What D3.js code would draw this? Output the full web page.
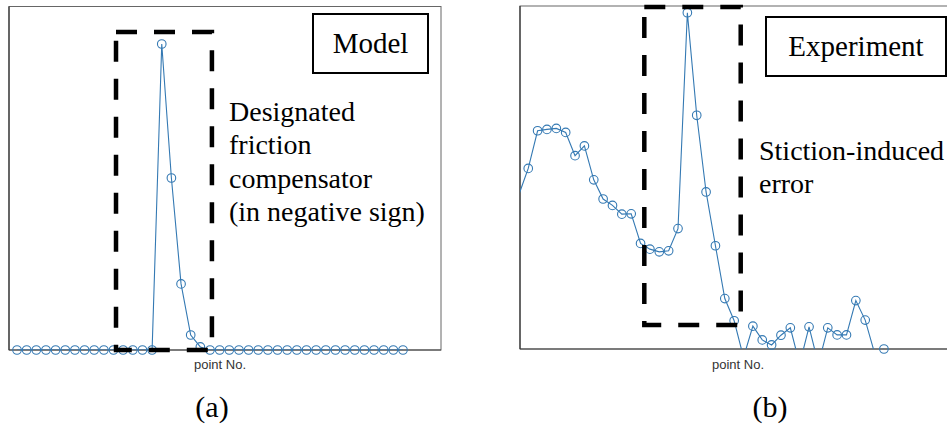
<!DOCTYPE html>
<html>
<head>
<meta charset="utf-8">
<script src="https://cdn.jsdelivr.net/npm/d3@7"></script>
<style>
    body { margin: 0; background: #fff; }
    svg { display: block; }
</style>
</head>
<body>
<div id="chart_div"></div>
<script>
// values, normalised so that the peak of each panel is 1
const modelValues = [0, 0, 0, 0, 0, 0, 0, 0, 0, 0,
                     0, 0, 0, 0, 0, 1.0, 0.562, 0.216, 0.049, 0.01,
                     0, 0, 0, 0, 0, 0, 0, 0, 0, 0,
                     0, 0, 0, 0, 0, 0, 0, 0, 0, 0, 0];

const experimentValues = [0.459, 0.537, 0.649, 0.653, 0.656, 0.644, 0.575, 0.604, 0.503, 0.446,
                          0.427, 0.401, 0.402, 0.314, 0.297, 0.289, 0.292, 0.358, 1.0, 0.695,
                          0.467, 0.307, 0.150, 0.084, -0.025, 0.068, 0.027, 0.012, 0.041, 0.063,
                          -0.045, 0.066, -0.045, 0.063, 0.042, 0.042, 0.144, 0.086, -0.012, 0];

const panelTitles = ["Model", "Experiment"];
const panelCaptions = ["(a)", "(b)"];
const xAxisLabel = "point No.";
const modelNote = ["Designated", "friction", "compensator", "(in negative sign)"];
const experimentNote = ["Stiction-induced", "error"];

const width = 947;
const height = 427;
const lineColor = "#3479b3";
const serif = "'Liberation Serif', 'Times New Roman', serif";

const svg = d3.select("#chart_div")
    .append("svg")
    .attr("width", width)
    .attr("height", height);

const panels = [
    {
        values: modelValues,
        box: {left: 9, right: 441, top: 6.5, bottom: 350},
        xDomain: [-0.83, 43.94],
        yDomain: [0, 1.1225],
        title: {x0: 313, x1: 428, y0: 14, y1: 73},
        highlight: {i0: 10.26, i1: 20.2, v0: 0, v1: 1.039},
        note: modelNote, noteX: 229, noteY: 121, noteStep: 33.3,
        labelX: 220, captionX: 212
    },
    {
        values: experimentValues,
        box: {left: 520, right: 953, top: 6, bottom: 349},
        xDomain: [0.12, 46.38],
        yDomain: [0, 1.02],
        title: {x0: 766, x1: 946, y0: 17, y1: 76},
        highlight: {i0: 13.4, i1: 23.7, v0: 0.071, v1: 1.017},
        note: experimentNote, noteX: 759, noteY: 160, noteStep: 33,
        labelX: 738, captionX: 770
    }
];

panels.forEach(function(p, k) {
    let xScale = d3.scaleLinear()
        .domain(p.xDomain)
        .range([p.box.left, p.box.right]);

    let yScale = d3.scaleLinear()
        .domain(p.yDomain)
        .range([p.box.bottom, p.box.top]);

    let g = svg.append("g");

    // line segments are clipped to the axes, markers outside the limits are just not drawn
    g.append("clipPath")
        .attr("id", "clip" + k)
        .append("rect")
        .attr("x", p.box.left)
        .attr("y", p.box.top)
        .attr("width", p.box.right - p.box.left)
        .attr("height", p.box.bottom - p.box.top);

    g.append("rect")
        .attr("x", p.box.left)
        .attr("y", p.box.top)
        .attr("width", p.box.right - p.box.left)
        .attr("height", p.box.bottom - p.box.top)
        .attr("fill", "none")
        .attr("stroke", "#666")
        .attr("stroke-width", 1);

    g.append("line")
        .attr("x1", p.box.left).attr("x2", p.box.right)
        .attr("y1", yScale(0)).attr("y2", yScale(0))
        .attr("stroke", "#444")
        .attr("stroke-width", 1.2);

    g.append("line")
        .attr("x1", p.box.left).attr("x2", p.box.left)
        .attr("y1", p.box.top).attr("y2", p.box.bottom)
        .attr("stroke", "#333")
        .attr("stroke-width", 1.2);

    g.append("path")
        .datum(p.values)
        .attr("clip-path", "url(#clip" + k + ")")
        .attr("fill", "none")
        .attr("stroke", lineColor)
        .attr("stroke-width", 1.1)
        .attr("d", d3.line()
            .x(function(d, i) { return xScale(i); })
            .y(function(d) { return yScale(d); })
        );

    g.selectAll("circle.marker")
        .data(p.values.map(function(v, i) { return {i: i, v: v}; })
            .filter(function(d) {
                return d.v >= p.yDomain[0] && d.i >= p.xDomain[0] && d.i <= p.xDomain[1];
            }))
        .enter()
        .append("circle")
        .attr("class", "marker")
        .attr("cx", function(d) { return xScale(d.i); })
        .attr("cy", function(d) { return yScale(d.v); })
        .attr("r", 4.3)
        .attr("fill", "none")
        .attr("stroke", lineColor)
        .attr("stroke-width", 1.1);

    // dashed highlight box
    g.append("rect")
        .attr("x", xScale(p.highlight.i0))
        .attr("y", yScale(p.highlight.v1))
        .attr("width", xScale(p.highlight.i1) - xScale(p.highlight.i0))
        .attr("height", yScale(p.highlight.v0) - yScale(p.highlight.v1))
        .attr("fill", "none")
        .attr("stroke", "#000")
        .attr("stroke-width", 4.5)
        .attr("stroke-dasharray", "21,17");

    // title box
    g.append("rect")
        .attr("x", p.title.x0)
        .attr("y", p.title.y0)
        .attr("width", p.title.x1 - p.title.x0)
        .attr("height", p.title.y1 - p.title.y0)
        .attr("fill", "#fff")
        .attr("stroke", "#000")
        .attr("stroke-width", 2);

    g.append("text")
        .attr("x", (p.title.x0 + p.title.x1) / 2)
        .attr("y", (p.title.y0 + p.title.y1) / 2 + 9.5)
        .attr("text-anchor", "middle")
        .attr("font-family", serif)
        .attr("font-size", 29)
        .attr("fill", "#000")
        .text(panelTitles[k]);

    g.selectAll("text.note")
        .data(p.note)
        .enter()
        .append("text")
        .attr("class", "note")
        .attr("x", p.noteX)
        .attr("y", function(d, i) { return p.noteY + i * p.noteStep; })
        .attr("font-family", serif)
        .attr("font-size", 28)
        .attr("fill", "#000")
        .text(function(d) { return d; });

    g.append("text")
        .attr("x", p.labelX)
        .attr("y", 369)
        .attr("text-anchor", "middle")
        .attr("font-family", "'Liberation Sans', Arial, sans-serif")
        .attr("font-size", 13)
        .attr("fill", "#333")
        .text(xAxisLabel);

    g.append("text")
        .attr("x", p.captionX)
        .attr("y", 417)
        .attr("text-anchor", "middle")
        .attr("font-family", serif)
        .attr("font-size", 30)
        .attr("fill", "#000")
        .text(panelCaptions[k]);
});
</script>
</body>
</html>
